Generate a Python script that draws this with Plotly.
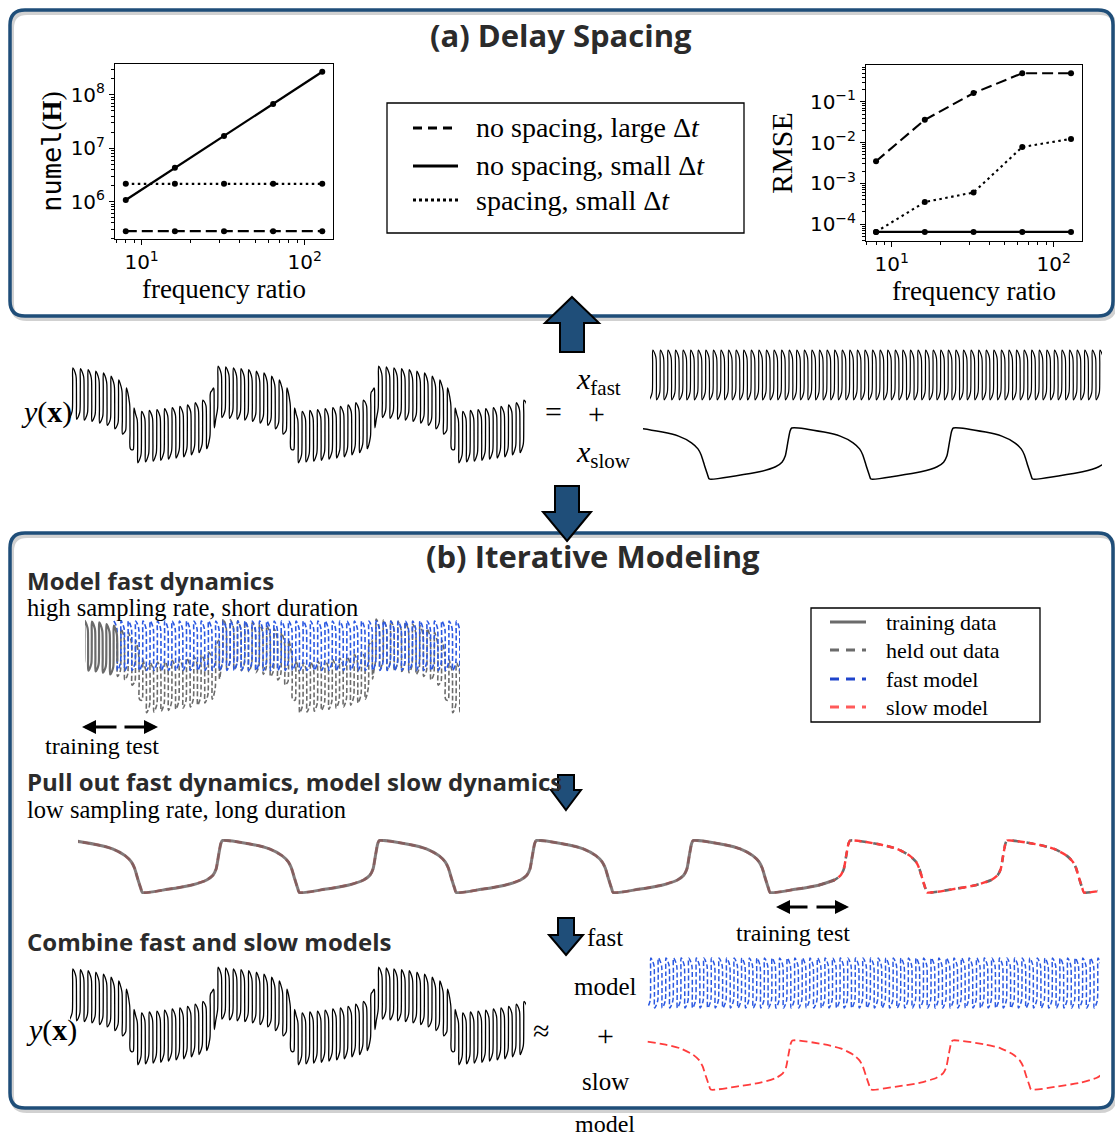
import numpy as np
import plotly.graph_objects as go

W, H = 1115, 1138
SERIF = "Liberation Serif"
SANS = "DejaVu Sans"
BOLD_SANS = "Open Sans"
PANEL_BLUE = "#1f4e79"
TITLE_GREY = "#2b2b2b"
GREY = "#6b6b6b"
BLUE = "#2a58e2"
RED = "#ff3c3c"

# ---------------- data: panel (a) ----------------
FREQ_RATIO = [8, 16, 32, 64, 128]
NUMEL_NOSPACE_LARGE_DT = [2.8e5, 2.8e5, 2.8e5, 2.8e5, 2.8e5]
NUMEL_NOSPACE_SMALL_DT = [1.07e6, 4.3e6, 1.7e7, 6.7e7, 2.7e8]
NUMEL_SPACE_SMALL_DT = [2.15e6, 2.15e6, 2.15e6, 2.15e6, 2.15e6]
RMSE_NOSPACE_LARGE_DT = [3.5e-3, 3.6e-2, 1.63e-1, 5.0e-1, 5.0e-1]
RMSE_NOSPACE_SMALL_DT = [6.5e-5, 6.5e-5, 6.5e-5, 6.5e-5, 6.5e-5]
RMSE_SPACE_SMALL_DT = [6.5e-5, 3.5e-4, 6.0e-4, 7.8e-3, 1.23e-2]
SERIES_NAMES = ["no spacing, large Δ<i>t</i>", "no spacing, small Δ<i>t</i>", "spacing, small Δ<i>t</i>"]
NUMEL_TICKS = [1e6, 1e7, 1e8]
NUMEL_TICKTEXT = ["10<sup>6</sup>", "10<sup>7</sup>", "10<sup>8</sup>"]
RMSE_TICKS = [1e-4, 1e-3, 1e-2, 1e-1]
RMSE_TICKTEXT = ["10<sup>−4</sup>", "10<sup>−3</sup>", "10<sup>−2</sup>", "10<sup>−1</sup>"]
FREQ_TICKS = [10, 100]
FREQ_TICKTEXT = ["10<sup>1</sup>", "10<sup>2</sup>"]
LEGEND_B_NAMES = ["training data", "held out data", "fast model", "slow model"]

# ---------------- data: waveform shapes ----------------
# one slow cycle (phase in slow periods, level 0 = bottom, 1 = top), starting at the top
SLOW_PHASE = [0.00, 0.20, 0.30, 0.38, 0.42, 0.44, 0.46, 0.48, 0.49, 0.65, 0.80, 0.90, 0.94, 0.96, 0.975, 0.99]
SLOW_LEVEL = [1.00, 0.92, 0.84, 0.71, 0.59, 0.47, 0.27, 0.08, 0.00, 0.06, 0.14, 0.24, 0.33, 0.45, 0.70, 0.94]
# one fast cycle (phase in fast periods, level -0.5..0.5)
FAST_PHASE = [0.00, 0.03, 0.06, 0.25, 0.45, 0.50, 0.53, 0.56, 0.75, 0.95]
FAST_LEVEL = [-0.30, 0.20, 0.50, 0.45, 0.36, 0.30, -0.20, -0.50, -0.45, -0.36]
FAST_PER_SLOW = 21          # fast cycles per slow cycle
SLOW_GAIN = 0.9             # slow contribution in y(x)
FAST_MODEL_OFFSET = 0.86    # level at which the fast model is shown
TOP_WINDOW = [0.08, 2.92]   # time windows (slow periods)
FAST_FIT_WINDOW = [0.10, 2.55]
FAST_TRAIN_END = 0.31
SLOW_FIT_WINDOW = [0.08, 6.58]
SLOW_TRAIN_END = 4.84


def tile(phases, levels, t0, t1, period):
    n0 = int(np.floor(t0 / period)) - 1
    n1 = int(np.ceil(t1 / period)) + 2
    t, v = [], []
    for k in range(n0, n1):
        for p, lv in zip(phases, levels):
            t.append((k + p) * period)
            v.append(lv)
    return np.array(t), np.array(v)


def slow_signal(t0, t1):
    return tile(SLOW_PHASE, SLOW_LEVEL, t0, t1, 1.0)


def fast_signal(t0, t1):
    return tile(FAST_PHASE, FAST_LEVEL, t0, t1, 1.0 / FAST_PER_SLOW)


def full_signal(t0, t1):
    ts, vs = slow_signal(t0, t1)
    tf, vf = fast_signal(t0, t1)
    return tf, SLOW_GAIN * np.interp(tf, ts, vs) + vf


def cut(t, v, a, b):
    m = (t >= a) & (t <= b)
    idx = np.where(m)[0]
    lo = max(idx[0] - 1, 0)
    hi = min(idx[-1] + 2, len(t))
    return t[lo:hi], v[lo:hi]


# ---------------- helpers ----------------
def px(x):
    return x / W


def py(y):
    return 1 - y / H


def dom_x(a, b):
    return [a / W, b / W]


def dom_y(top, bottom):
    return [1 - bottom / H, 1 - top / H]


def rrect_path(x0, y0, x1, y1, r):
    P = lambda x, y: f"{px(x):.5f},{py(y):.5f}"
    return (f"M{P(x0 + r, y0)} L{P(x1 - r, y0)} Q{P(x1, y0)} {P(x1, y0 + r)} "
            f"L{P(x1, y1 - r)} Q{P(x1, y1)} {P(x1 - r, y1)} L{P(x0 + r, y1)} "
            f"Q{P(x0, y1)} {P(x0, y1 - r)} L{P(x0, y0 + r)} Q{P(x0, y0)} {P(x0 + r, y0)} Z")


def block_arrow(cx, y_tip, y_base, y_end, head_hw, shaft_hw):
    pts = [(cx, y_tip), (cx + head_hw, y_base), (cx + shaft_hw, y_base), (cx + shaft_hw, y_end),
           (cx - shaft_hw, y_end), (cx - shaft_hw, y_base), (cx - head_hw, y_base)]
    s = "M" + " L".join(f"{px(x):.5f},{py(y):.5f}" for x, y in pts) + " Z"
    return dict(type="path", path=s, xref="paper", yref="paper", fillcolor=PANEL_BLUE,
                line=dict(color="black", width=2), layer="above")


def box(x0, y0, x1, y1):
    return dict(type="rect", x0=px(x0), x1=px(x1), y0=py(y0), y1=py(y1), xref="paper", yref="paper",
                line=dict(color="black", width=1.3), fillcolor="white", layer="above")


def sample(x0, x1, y, color, dash, width=3):
    return dict(type="line", x0=px(x0), x1=px(x1), y0=py(y), y1=py(y), xref="paper", yref="paper",
                line=dict(color=color, width=width, dash=dash), layer="above")


def ann(text, x, y, size, family=SERIF, color="black", xanchor="center", yanchor="middle"):
    return dict(text=text, x=px(x), y=py(y), xref="paper", yref="paper", showarrow=False,
                font=dict(size=size, family=family, color=color), xanchor=xanchor, yanchor=yanchor,
                borderpad=0)


def arrow(x_head, y, dx_tail):
    return dict(text="", x=px(x_head), y=py(y), xref="paper", yref="paper", showarrow=True,
                ax=dx_tail, ay=0, axref="pixel", ayref="pixel", arrowhead=2, arrowsize=1.0,
                arrowwidth=2.8, arrowcolor="black", standoff=0, startstandoff=0)


fig = go.Figure()

# ---------------- panel (a) plots ----------------
DASHES = ["11px,5px", "solid", "2.5px,3.5px"]
numel_sets = [NUMEL_NOSPACE_LARGE_DT, NUMEL_NOSPACE_SMALL_DT, NUMEL_SPACE_SMALL_DT]
rmse_sets = [RMSE_NOSPACE_LARGE_DT, RMSE_NOSPACE_SMALL_DT, RMSE_SPACE_SMALL_DT]
for name, vals, dash in zip(SERIES_NAMES, numel_sets, DASHES):
    fig.add_trace(go.Scatter(x=FREQ_RATIO, y=vals, mode="lines+markers", name=name, showlegend=False,
                             line=dict(color="black", width=2.3, dash=dash),
                             marker=dict(color="black", size=6), xaxis="x", yaxis="y"))
for name, vals, dash in zip(SERIES_NAMES, rmse_sets, DASHES):
    fig.add_trace(go.Scatter(x=FREQ_RATIO, y=vals, mode="lines+markers", name=name, showlegend=False,
                             line=dict(color="black", width=2.1, dash=dash),
                             marker=dict(color="black", size=6), xaxis="x2", yaxis="y2"))

# ---------------- decomposition row ----------------
t, v = full_signal(*TOP_WINDOW)
fig.add_trace(go.Scatter(x=t, y=v, mode="lines", showlegend=False, line=dict(color="black", width=1.3, shape="spline"),
                         xaxis="x3", yaxis="y3"))
t, v = fast_signal(*TOP_WINDOW)
fig.add_trace(go.Scatter(x=t, y=v, mode="lines", showlegend=False, line=dict(color="black", width=1.2, shape="spline"),
                         xaxis="x4", yaxis="y4"))
t, v = slow_signal(*TOP_WINDOW)
fig.add_trace(go.Scatter(x=t, y=v, mode="lines", showlegend=False, line=dict(color="black", width=1.5, shape="spline", smoothing=0.6),
                         xaxis="x5", yaxis="y5"))

# ---------------- (b) fast model ----------------
t, v = full_signal(*FAST_FIT_WINDOW)
tt, vv = cut(t, v, FAST_TRAIN_END, FAST_FIT_WINDOW[1] + 0.05)
fig.add_trace(go.Scatter(x=tt, y=vv, mode="lines", name="held out data", showlegend=False,
                         line=dict(color=GREY, width=1.6, dash="5px,2.5px", shape="spline"),
                         xaxis="x6", yaxis="y6"))
tf, vf = fast_signal(*FAST_FIT_WINDOW)
tf, vf = cut(tf, vf, FAST_TRAIN_END - 0.02, FAST_FIT_WINDOW[1] + 0.05)
fig.add_trace(go.Scatter(x=tf, y=vf + FAST_MODEL_OFFSET, mode="lines", name="fast model", showlegend=False,
                         line=dict(color=BLUE, width=1.6, dash="5px,2.5px", shape="spline"),
                         xaxis="x6", yaxis="y6"))
tt, vv = cut(t, v, FAST_FIT_WINDOW[0] - 0.05, FAST_TRAIN_END)
fig.add_trace(go.Scatter(x=tt, y=vv, mode="lines", name="training data", showlegend=False,
                         line=dict(color=GREY, width=2.2, shape="spline"),
                         xaxis="x6", yaxis="y6"))

# ---------------- (b) slow model ----------------
ts, vs = slow_signal(*SLOW_FIT_WINDOW)
tt, vv = cut(ts, vs, SLOW_TRAIN_END, SLOW_FIT_WINDOW[1] + 0.1)
fig.add_trace(go.Scatter(x=tt, y=vv, mode="lines", showlegend=False,
                         line=dict(color=GREY, width=2.6, dash="7px,7px", shape="spline", smoothing=0.6),
                         xaxis="x7", yaxis="y7"))
fig.add_trace(go.Scatter(x=ts, y=vs, mode="lines", name="slow model", showlegend=False,
                         line=dict(color=RED, width=2.4, dash="7px,4px", shape="spline", smoothing=0.6),
                         xaxis="x7", yaxis="y7"))
tt, vv = cut(ts, vs, SLOW_FIT_WINDOW[0] - 0.1, SLOW_TRAIN_END)
fig.add_trace(go.Scatter(x=tt, y=vv, mode="lines", showlegend=False, opacity=0.85,
                         line=dict(color="#6e6464", width=3, shape="spline", smoothing=0.6),
                         xaxis="x7", yaxis="y7"))

# ---------------- combine row ----------------
t, v = full_signal(*TOP_WINDOW)
fig.add_trace(go.Scatter(x=t, y=v, mode="lines", showlegend=False, line=dict(color="black", width=1.3, shape="spline"),
                         xaxis="x8", yaxis="y8"))
t, v = fast_signal(*TOP_WINDOW)
fig.add_trace(go.Scatter(x=t, y=v, mode="lines", showlegend=False,
                         line=dict(color=BLUE, width=1.5, dash="5px,2.5px", shape="spline"),
                         xaxis="x9", yaxis="y9"))
t, v = slow_signal(*TOP_WINDOW)
fig.add_trace(go.Scatter(x=t, y=v, mode="lines", showlegend=False,
                         line=dict(color=RED, width=1.8, dash="8px,4px", shape="spline", smoothing=0.6),
                         xaxis="x10", yaxis="y10"))

# ---------------- axes ----------------
tickfont = dict(family=SANS, size=20, color="black")


def log_minor(exps, lo, hi):
    return [m * 10.0 ** e for e in exps for m in range(2, 10) if lo <= m * 10.0 ** e <= hi]


common_log = dict(type="log", showline=True, mirror=True, linecolor="black", linewidth=1,
                  ticks="outside", ticklen=5, tickwidth=1, tickcolor="black", showgrid=False,
                  zeroline=False, tickfont=tickfont, tickmode="array")

lay = {}
lay["xaxis"] = dict(common_log, domain=dom_x(115, 333), anchor="y", range=[0.837, 2.173],
                    tickvals=FREQ_TICKS, ticktext=FREQ_TICKTEXT,
                    minor=dict(tickvals=log_minor([0, 1], 7, 149), ticks="outside", ticklen=3, tickcolor="black"),
                    title=dict(text="frequency ratio", font=dict(family=SERIF, size=27, color="black"), standoff=6))
lay["yaxis"] = dict(common_log, domain=dom_y(64, 239), anchor="x", range=[5.30, 8.576],
                    tickvals=NUMEL_TICKS, ticktext=NUMEL_TICKTEXT,
                    minor=dict(tickvals=log_minor([5, 6, 7, 8], 1.9e5, 3.8e8), ticks="outside", ticklen=3, tickcolor="black"),
                    title=dict(text='<span style="font-family:DejaVu Sans Mono">numel</span>(<b>H</b>)',
                               font=dict(family=SERIF, size=27, color="black"), standoff=1))
lay["xaxis2"] = dict(common_log, domain=dom_x(866, 1082), anchor="y2", range=[0.841, 2.175],
                     tickvals=FREQ_TICKS, ticktext=FREQ_TICKTEXT,
                     minor=dict(tickvals=log_minor([0, 1], 7, 149), ticks="outside", ticklen=3, tickcolor="black"),
                     title=dict(text="frequency ratio", font=dict(family=SERIF, size=27, color="black"), standoff=6))
lay["yaxis2"] = dict(common_log, domain=dom_y(65, 241), anchor="x2", range=[-4.41, -0.10],
                     tickvals=RMSE_TICKS, ticktext=RMSE_TICKTEXT,
                     minor=dict(tickvals=log_minor([-5, -4, -3, -2, -1], 3.8e-5, 0.8), ticks="outside", ticklen=3, tickcolor="black"),
                     title=dict(text="RMSE", font=dict(family=SERIF, size=30, color="black"), standoff=8))

hidden = dict(visible=False, showgrid=False, zeroline=False, fixedrange=True)
wave_axes = {
    3: (dom_x(70, 526), dom_y(365, 464), TOP_WINDOW, [-0.52, 1.42]),
    4: (dom_x(650, 1102), dom_y(349, 401), TOP_WINDOW, [-0.52, 0.52]),
    5: (dom_x(643, 1102), dom_y(427, 480), TOP_WINDOW, [-0.02, 1.02]),
    6: (dom_x(85, 460), dom_y(618, 714), FAST_FIT_WINDOW, [-0.52, 1.42]),
    7: (dom_x(78, 1098), dom_y(839, 894), SLOW_FIT_WINDOW, [-0.03, 1.03]),
    8: (dom_x(70, 526), dom_y(966, 1066), TOP_WINDOW, [-0.52, 1.42]),
    9: (dom_x(648, 1100), dom_y(957, 1009), TOP_WINDOW, [-0.52, 0.52]),
    10: (dom_x(645, 1100), dom_y(1039, 1091), TOP_WINDOW, [-0.03, 1.03]),
}
for i, (dx, dy, xr, yr) in wave_axes.items():
    lay[f"xaxis{i}"] = dict(hidden, domain=dx, anchor=f"y{i}", range=xr)
    lay[f"yaxis{i}"] = dict(hidden, domain=dy, anchor=f"x{i}", range=yr)

# ---------------- shapes ----------------
shapes = []
for (x0, y0, x1, y1) in [(10, 10, 1113, 316), (10, 533, 1113, 1108)]:
    shapes.append(dict(type="path", path=rrect_path(x0 + 2, y0 + 3, x1 + 2, y1 + 3, 15), xref="paper", yref="paper",
                       line=dict(color="rgba(0,0,0,0.18)", width=4), layer="below"))
    shapes.append(dict(type="path", path=rrect_path(x0, y0, x1, y1, 15), xref="paper", yref="paper",
                       line=dict(color=PANEL_BLUE, width=3.5), layer="below"))
shapes.append(block_arrow(572, 297, 323, 352, 27, 12))
shapes.append(block_arrow(567, 541, 512, 486, 24, 12))
shapes.append(block_arrow(566, 810, 790, 775, 15, 8))
shapes.append(block_arrow(566, 955, 935, 918, 17, 8))

# legend (a)
shapes.append(box(387, 103, 744, 233))
LEG_A_Y = [128, 166, 200]
LEG_A_DASH = ["9px,6px", "solid", "3px,3px"]
for yy, dash in zip(LEG_A_Y, LEG_A_DASH):
    shapes.append(sample(413, 458, yy, "black", dash, 3.2))
# legend (b)
shapes.append(box(811, 608, 1040, 722))
LEG_B_Y = [622, 650, 679, 707]
LEG_B_STYLE = [(GREY, "solid"), (GREY, "9px,7px"), ("#1f44cc", "9px,7px"), ("#ff5a5a", "9px,7px")]
for yy, (col, dash) in zip(LEG_B_Y, LEG_B_STYLE):
    shapes.append(sample(830, 866, yy, col, dash, 3.2))

# ---------------- annotations ----------------
anns = [
    ann("<b>(a) Delay Spacing</b>", 561, 35, 31, BOLD_SANS, TITLE_GREY),
    ann("<b>(b) Iterative Modeling</b>", 593, 556, 31, BOLD_SANS, TITLE_GREY),
    ann("<b>Model fast dynamics</b>", 26, 580, 24, BOLD_SANS, TITLE_GREY, xanchor="left"),
    ann("high sampling rate, short duration", 26, 607, 24.5, xanchor="left"),
    ann("<b>Pull out fast dynamics, model slow dynamics</b>", 26, 781, 24, BOLD_SANS, TITLE_GREY, xanchor="left"),
    ann("low sampling rate, long duration", 26, 809, 24.5, xanchor="left"),
    ann("<b>Combine fast and slow models</b>", 26, 941, 24, BOLD_SANS, TITLE_GREY, xanchor="left"),
    ann("<i>y</i>(<b>x</b>)", 46, 412, 30),
    ann("=", 553, 411, 30),
    ann("<i>x</i><sub>fast</sub>", 575, 381, 30, xanchor="left"),
    ann("+", 597, 413, 30),
    ann("<i>x</i><sub>slow</sub>", 575, 454, 30, xanchor="left"),
    ann("<i>y</i>(<b>x</b>)", 51, 1030, 30),
    ann("≈", 541, 1030, 30),
    ann("fast", 605, 937, 25),
    ann("model", 605, 986, 25),
    ann("+", 605, 1035, 30),
    ann("slow", 605, 1081, 25),
    ann("model", 605, 1124, 24),
    ann("training test", 102, 746, 24),
    ann("training test", 793, 933, 24),
    arrow(82, 727, 36),
    arrow(158, 727, -35),
    arrow(776, 907, 33),
    arrow(849, 907, -34),
]
for yy, name in zip(LEG_A_Y, SERIES_NAMES):
    anns.append(ann(name, 475, yy, 28, xanchor="left"))
for yy, name in zip(LEG_B_Y, LEGEND_B_NAMES):
    anns.append(ann(name, 885, yy, 22, xanchor="left"))

fig.update_layout(
    width=W, height=H, autosize=False,
    margin=dict(l=0, r=0, t=0, b=0),
    paper_bgcolor="white", plot_bgcolor="rgba(0,0,0,0)",
    shapes=shapes, annotations=anns, showlegend=False,
    **lay,
)

fig.write_html("out.html")
